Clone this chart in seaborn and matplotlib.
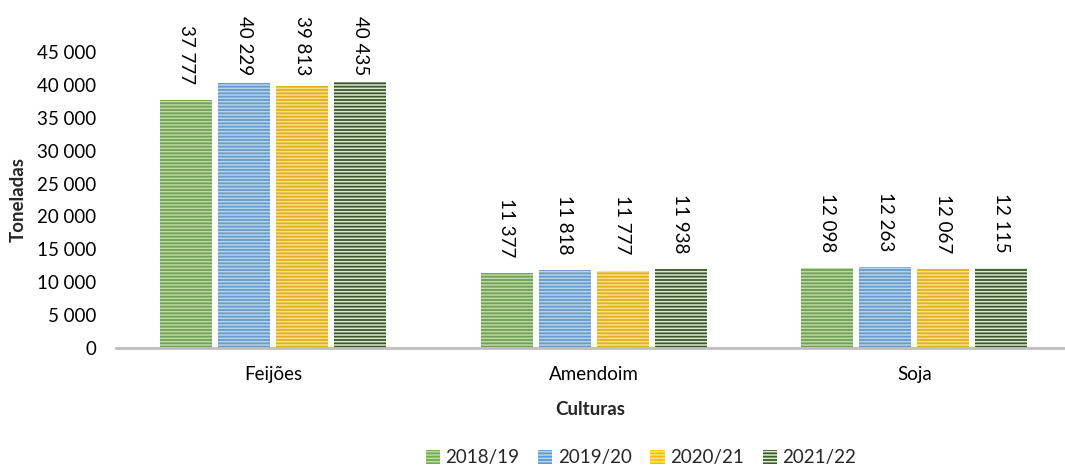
import seaborn as sns
import matplotlib.pyplot as plt
import pandas as pd
from matplotlib.patches import Patch

culturas = ["Feijões", "Amendoim", "Soja"]
anos = ["2018/19", "2019/20", "2020/21", "2021/22"]
v_2018_19 = [37777, 11377, 12098]
v_2019_20 = [40229, 11818, 12263]
v_2020_21 = [39813, 11777, 12067]
v_2021_22 = [40435, 11938, 12115]

cores = ["#70AD47", "#5B9BD5", "#FFC000", "#385C23"]
riscas = ["#B9DAA2", "#B4D3EF", "#FFE08A", "#DDEBD3"]


def fmt(v):
    return f"{v:,}".replace(",", " ")


linhas = []
for ano, vals in zip(anos, [v_2018_19, v_2019_20, v_2020_21, v_2021_22]):
    for cult, v in zip(culturas, vals):
        linhas.append({"Culturas": cult, "Ano": ano, "Toneladas": v})
df = pd.DataFrame(linhas)

sns.set_style("white")
plt.rcParams["font.family"] = ["Lato", "DejaVu Sans"]
plt.rcParams["hatch.linewidth"] = 1.1
fs = 13.5

fig = plt.figure(figsize=(10.65, 4.68), dpi=100)
ax = fig.add_axes([116 / 1065, 1 - 348 / 468, 1 - 116 / 1065, 296 / 468])

sns.barplot(data=df, x="Culturas", y="Toneladas", hue="Ano", hue_order=anos,
            palette=cores, width=0.724, gap=0.1, ax=ax, legend=False)

for cont, risca, ano in zip(ax.containers, riscas, anos):
    for barra in cont:
        barra.set_edgecolor(risca)
        barra.set_linewidth(0)
        barra.set_hatch("-----")
    vals = df.loc[df["Ano"] == ano, "Toneladas"].tolist()
    for barra, v in zip(cont, vals):
        x = barra.get_x() + barra.get_width() / 2
        y = min(v + 2400, 41500)
        ax.text(x, y, fmt(v), rotation=-90, ha="center", va="bottom",
                fontsize=fs, color="#000000")

ax.set_xlim(-0.49, 2.47)
ax.set_ylim(0, 45000)
ax.set_yticks(range(0, 45001, 5000))
ax.set_yticklabels([fmt(t) for t in range(0, 45001, 5000)])
ax.tick_params(axis="y", length=0, pad=14, labelsize=fs, labelcolor="#000000")
ax.tick_params(axis="x", length=0, pad=13, labelsize=fs, labelcolor="#000000")

for lado in ["top", "right", "left"]:
    ax.spines[lado].set_visible(False)
ax.spines["bottom"].set_color("#BFBFBF")
ax.spines["bottom"].set_linewidth(2)

ax.set_xlabel("Culturas", fontsize=fs, fontweight="bold", labelpad=13)
ax.set_ylabel("Toneladas", fontsize=fs, fontweight="bold")
ax.yaxis.set_label_coords(-(116 - 27) / 949, 0.5)

handles = [Patch(facecolor=c, edgecolor=r, linewidth=0, hatch="-----", label=a)
           for c, r, a in zip(cores, riscas, anos)]
fig.legend(handles=handles, loc="center", bbox_to_anchor=(641 / 1065, 1 - 458 / 468),
           ncol=4, frameon=False, fontsize=fs, handlelength=0.75, handleheight=0.75,
           handletextpad=0.3, columnspacing=1.0)

fig.savefig("out.png", dpi=100)
